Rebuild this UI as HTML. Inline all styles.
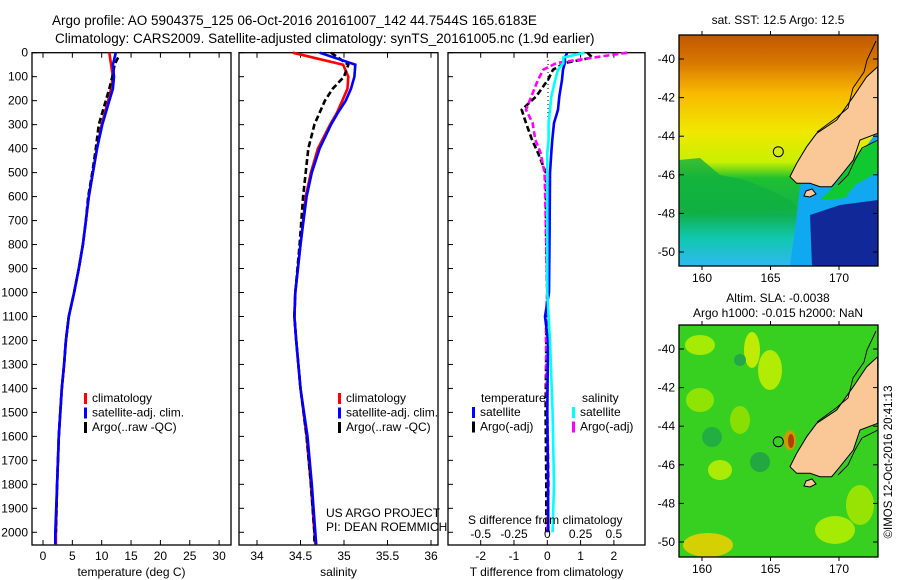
<!DOCTYPE html>
<html><head><meta charset="utf-8">
<style>
body{margin:0;background:#fff;}
svg{display:block;font-family:"Liberation Sans",sans-serif;}
text{font-size:12px;fill:#000;}
</style></head>
<body>
<svg id="fig" width="900" height="580" viewBox="0 0 900 580">
<text x="52" y="25" style="font-size:13.5px">Argo profile: AO 5904375_125 06-Oct-2016 20161007_142 44.7544S 165.6183E</text>
<text x="55" y="43" style="font-size:13.5px">Climatology: CARS2009. Satellite-adjusted climatology: synTS_20161005.nc (1.9d earlier)</text>
<g id="plots"></g>
<g id="maps"></g>
</svg>
<script>
// ---------- data ----------
const depthTicks=[0,100,200,300,400,500,600,700,800,900,1000,1100,1200,1300,1400,1500,1600,1700,1800,1900,2000];
const tempTicks=[0,5,10,15,20,25,30];
const salTicks=[34,34.5,35,35.5,36];
const tdTicks=[-2,-1,0,1,2];
const sdTicks=[-0.5,-0.25,0,0.25,0.5];
const sdTickLabels=["-0.5","-0.25","0","0.25","0.5"];
const tDepth=[0,50,100,150,200,300,400,500,600,700,800,900,1000,1100,1200,1300,1400,1600,1800,2000,2050];
const tClim=[11.3,11.6,11.9,11.6,11.1,10.0,9.2,8.5,7.8,7.3,6.8,6.1,5.3,4.4,3.9,3.6,3.2,2.7,2.4,2.2,2.2];
const tSat =[12.4,11.9,12.1,11.9,11.3,10.1,9.2,8.5,7.8,7.3,6.8,6.1,5.3,4.4,3.9,3.6,3.2,2.7,2.4,2.1,2.1];
const aDepth=[20,50,100,150,200,300,400,500,600,700,800,900,1000,1100,1200,1300,1400,1600,1800,2000];
const tArgo=[12.8,12.2,11.8,11.3,10.7,9.5,9.0,8.4,7.7,7.3,6.8,6.1,5.3,4.4,3.9,3.6,3.2,2.7,2.4,2.2];
const sDepth=[0,50,100,150,200,250,300,400,500,600,800,1000,1100,1200,1400,1600,1800,2000,2050];
const sClim=[34.41,34.99,35.05,35.04,34.98,34.92,34.84,34.70,34.62,34.56,34.50,34.44,34.43,34.45,34.50,34.57,34.62,34.66,34.67];
const sSat =[34.72,35.13,35.12,35.08,35.02,34.93,34.85,34.72,34.63,34.57,34.50,34.44,34.43,34.45,34.50,34.58,34.63,34.67,34.68];
const sArgo=[34.85,35.05,35.0,34.87,34.78,34.72,34.66,34.59,34.56,34.53,34.49,34.44,34.43,34.45,34.50,34.57,34.62,34.66,34.66];
const dDepth=[0,20,43,71,113,183,238,293,363,418,502,740,1000,1100,1200,1500,1800,2000];
const dTsat=[0.6,0.53,0.53,0.47,0.44,0.36,0.32,0.2,0.15,0.12,0.08,0.07,0.05,-0.07,0.02,0.0,0.02,0.03];
const dTargo=[1.2,1.35,0.53,0.17,0.02,-0.34,-0.77,-0.64,-0.46,-0.28,-0.04,-0.04,0.0,-0.02,-0.03,-0.05,-0.03,-0.03];
const dSsat=[0.28,0.12,0.12,0.08,0.06,0.03,0.02,0.01,0.01,0.0,0.0,0.0,0.0,0.01,0.02,0.04,0.05,0.04];
const dSargo=[0.6,0.35,0.07,-0.03,-0.07,-0.12,-0.16,-0.11,-0.09,-0.05,-0.02,-0.01,0.0,-0.01,-0.01,0.0,0.01,0.0];

const NS="http://www.w3.org/2000/svg";
function mk(tag,attrs,parent){const e=document.createElementNS(NS,tag);for(const k in attrs)e.setAttribute(k,attrs[k]);parent.appendChild(e);return e;}
const plots=document.getElementById('plots');
const TOP=52.7,BOT=545;
const yD=d=>TOP+d*0.2398;

function panel(name,x0,x1,xf,ticks,labels,xlabel,showY){
  const g=mk('g',{},plots);
  
  
  const r=mk('rect',{x:x0,y:TOP,width:x1-x0,height:BOT-TOP,fill:'#fff',stroke:'#000','stroke-width':1.3},g);
  
  
  depthTicks.forEach(d=>{
    const y=yD(d);
    mk('line',{x1:x0,x2:x0+5,y1:y,y2:y,stroke:'#000'},g);
    if(showY){const t=mk('text',{x:x0-4,y:y+4,'text-anchor':'end'},g);t.textContent=d;
      
      }
  });
  ticks.forEach((v,i)=>{
    const x=xf(v);
    mk('line',{x1:x,x2:x,y1:BOT,y2:BOT-5,stroke:'#000'},g);
    mk('line',{x1:x,x2:x,y1:TOP,y2:TOP+5,stroke:'#000'},g);
    const t=mk('text',{x:x,y:BOT+15,'text-anchor':'middle'},g);t.textContent=labels?labels[i]:v;
    
    
  });
  const xl=mk('text',{x:(x0+x1)/2,y:BOT+31,'text-anchor':'middle'},g);xl.textContent=xlabel;
  
  
  return g;
}
function line(g,name,xs,ds,xf,color,dash,w){
  const pts=xs.map((v,i)=>xf(v).toFixed(1)+','+yD(ds[i]).toFixed(1)).join(' ');
  const p=mk('polyline',{points:pts,fill:'none',stroke:color,'stroke-width':w||2.6},g);
  if(dash)p.setAttribute('stroke-dasharray',dash);
  
  
}
function legend(g,x,y,items){
  items.forEach((it,i)=>{
    mk('rect',{x:x,y:y+i*14.5-9,width:3,height:11,fill:it[1]},g);
    const t=mk('text',{x:x+8,y:y+i*14.5},g);t.textContent=it[0];
    
    
  });
}
// Panel 1 temperature
const xT=v=>43+v*5.87;
const g1=panel('temperature-panel',32,231,xT,tempTicks,null,'temperature (deg C)',true);
line(g1,'temp-climatology-line',tClim,tDepth,xT,'#f00');
line(g1,'temp-argo-line',tArgo,aDepth,xT,'#000','6,3');
line(g1,'temp-satellite-line',tSat,tDepth,xT,'#00f');
legend(g1,84,402,[['climatology','#f00'],['satellite-adj. clim.','#00f'],['Argo(..raw -QC)','#000']]);
// Panel 2 salinity
const xS=v=>257+(v-34)*87;
const g2=panel('salinity-panel',239,438,xS,salTicks,null,'salinity',false);
line(g2,'sal-climatology-line',sClim,sDepth,xS,'#f00');
line(g2,'sal-argo-line',sArgo,sDepth,xS,'#000','6,3');
line(g2,'sal-satellite-line',sSat,sDepth,xS,'#00f');
legend(g2,338,402,[['climatology','#f00'],['satellite-adj. clim.','#00f'],['Argo(..raw -QC)','#000']]);
let t=mk('text',{x:326,y:517},g2);t.textContent='US ARGO PROJECT';


t=mk('text',{x:326,y:531},g2);t.textContent='PI: DEAN ROEMMICH';


// Panel 3 differences
const xDT=v=>547.3+v*33.3;
const xDS=v=>547.3+v*133.2;
const g3=panel('difference-panel',448,645,xDT,tdTicks,null,'T difference from climatology',false);
mk('line',{x1:548,x2:548,y1:60,y2:300,stroke:'#000','stroke-dasharray':'1,3'},g3);
line(g3,'tdiff-argo-line',dTargo,dDepth,xDT,'#000','6,3');
line(g3,'sdiff-argo-line',dSargo,dDepth,xDS,'#f0f','6,3');
line(g3,'tdiff-satellite-line',dTsat,dDepth,xDT,'#00f');
line(g3,'sdiff-satellite-line',dSsat,dDepth,xDS,'#0ff');
t=mk('text',{x:481,y:402},g3);t.textContent='temperature';


t=mk('text',{x:582,y:402},g3);t.textContent='salinity';


legend(g3,472,416,[['satellite','#00f'],['Argo(-adj)','#000']]);
legend(g3,572,416,[['satellite','#0ff'],['Argo(-adj)','#f0f']]);
t=mk('text',{x:468,y:524},g3);t.textContent='S difference from climatology';


sdTicks.forEach((v,i)=>{const tt=mk('text',{x:xDS(v),y:538,'text-anchor':'middle'},g3);tt.textContent=sdTickLabels[i];
  
  });

// ---------- maps ----------
const maps=document.getElementById('maps');
const latTicks=[-40,-42,-44,-46,-48,-50];
const lonTicks=[160,165,170];
const land="877.7,66.7 866.7,76.7 853.3,96.7 836.7,120 816.7,133.3 806.7,146.7 796.7,163.3 790,176.7 796.7,183.3 810,183.3 820,186.7 831.7,186.7 840,176.7 853.3,160 860,140 877.7,133.3";
function mapFrame(name,y0,y1,latY0,titleLines,titleY){
  const g=mk('g',{},maps);
  
  
  titleLines.forEach((s,i)=>{const tt=mk('text',{x:778,y:titleY+i*15,'text-anchor':'middle'},g);tt.textContent=s;
    
    });
  return g;
}
function finishMap(g,y0,y1,latY0,dy){
  mk('polygon',{points:land,fill:'#fac896',stroke:'#000','stroke-width':1,transform:'translate(0,'+dy+')'},g);
  mk('polygon',{points:"806,191 812,189 816,194 810,197 804,196",fill:'#fac896',stroke:'#000','stroke-width':1,transform:'translate(0,'+dy+')'},g);
  mk('polyline',{points:"876,41 867,60 864,72 853,88 848,108 836,118 817,132",fill:'none',stroke:'#000','stroke-width':0.9,transform:'translate(0,'+dy+')'},g);
  mk('polyline',{points:"878,140 862,148 855,160 848,175 838,185",fill:'none',stroke:'#000','stroke-width':0.9,transform:'translate(0,'+dy+')'},g);
  mk('circle',{cx:778.3,cy:151.7+dy,r:5,fill:'none',stroke:'#000','stroke-width':1},g);
  mk('rect',{x:679,y:y0,width:199,height:y1-y0,fill:'none',stroke:'#000','stroke-width':1.3},g);
  latTicks.forEach(la=>{const y=latY0+(-40-la)*19.3;
    mk('line',{x1:679,x2:684,y1:y,y2:y,stroke:'#000'},g);
    mk('line',{x1:873,x2:878,y1:y,y2:y,stroke:'#000'},g);
    const tt=mk('text',{x:675,y:y+4,'text-anchor':'end'},g);tt.textContent=la;
    
    });
  lonTicks.forEach(lo=>{const x=702+(lo-160)*13.7;
    mk('line',{x1:x,x2:x,y1:y0,y2:y0-4,stroke:'#000'},g);
    mk('line',{x1:x,x2:x,y1:y1,y2:y1+4,stroke:'#000'},g);
    const tt=mk('text',{x:x,y:y1+16,'text-anchor':'middle'},g);tt.textContent=lo;
    
    });
}
const defs=mk('defs',{},maps);
const lg=mk('linearGradient',{id:'sst',x1:0,y1:0,x2:0,y2:1},defs);
[[0,'#c05800'],[0.12,'#d87800'],[0.25,'#f8b800'],[0.42,'#f0e800'],[0.55,'#c8f000'],[0.62,'#20c030'],[0.78,'#10b050'],[0.88,'#10c8b0'],[1,'#30b8f0']].forEach(s=>mk('stop',{offset:s[0],'stop-color':s[1]},lg));
// SST map
const gm1=mapFrame('sst-map',35,266,59,['sat. SST: 12.5 Argo: 12.5'],24);
mk('rect',{x:679,y:35,width:199,height:231,fill:'url(#sst)'},gm1);
mk('polygon',{points:"679,160 700,158 720,175 745,180 770,190 790,200 800,210 679,215",fill:'#10b040',opacity:0.8},gm1);
mk('polygon',{points:"800,185 860,155 878,130 878,266 790,266 795,230",fill:'#10a8f0'},gm1);
mk('polygon',{points:"810,215 840,205 878,200 878,266 812,266",fill:'#102898'},gm1);
mk('polygon',{points:"835,185 860,150 878,140 878,172 855,185 845,198 820,200",fill:'#10c830'},gm1);
finishMap(gm1,35,266,59,0);
// SLA map
const gm2=mapFrame('sla-map',325,557,349,['Altim. SLA: -0.0038','Argo h1000: -0.015 h2000: NaN'],302);
mk('rect',{x:679,y:325,width:199,height:232,fill:'#38d020'},gm2);
[[700,345,15,10,'#b8f000'],[752,350,8,18,'#d8f000'],[700,400,14,12,'#a0e800'],[740,420,10,14,'#98e000'],[770,370,12,20,'#c8f000'],[790,440,6,10,'#e89000'],[708,545,25,12,'#f0d000'],[835,530,20,14,'#b8f000'],[860,505,14,20,'#a8e800'],[720,470,12,10,'#c0f000'],[740,360,6,6,'#20a050'],[712,437,10,10,'#20a848'],[760,462,10,10,'#20a048']].forEach((b,i)=>{
  const e=mk('ellipse',{cx:b[0],cy:b[1],rx:b[2],ry:b[3],fill:b[4],opacity:0.85},gm2);
});
mk('ellipse',{cx:791,cy:441,rx:3,ry:7,fill:'#b04000'},gm2);
finishMap(gm2,325,557,349,290);
const cr=mk('text',{x:0,y:0,transform:'translate(892,462) rotate(-90)','text-anchor':'middle',style:'font-size:11.5px'},maps);
cr.textContent='©IMOS 12-Oct-2016 20:41:13';


</script>
</body></html>
